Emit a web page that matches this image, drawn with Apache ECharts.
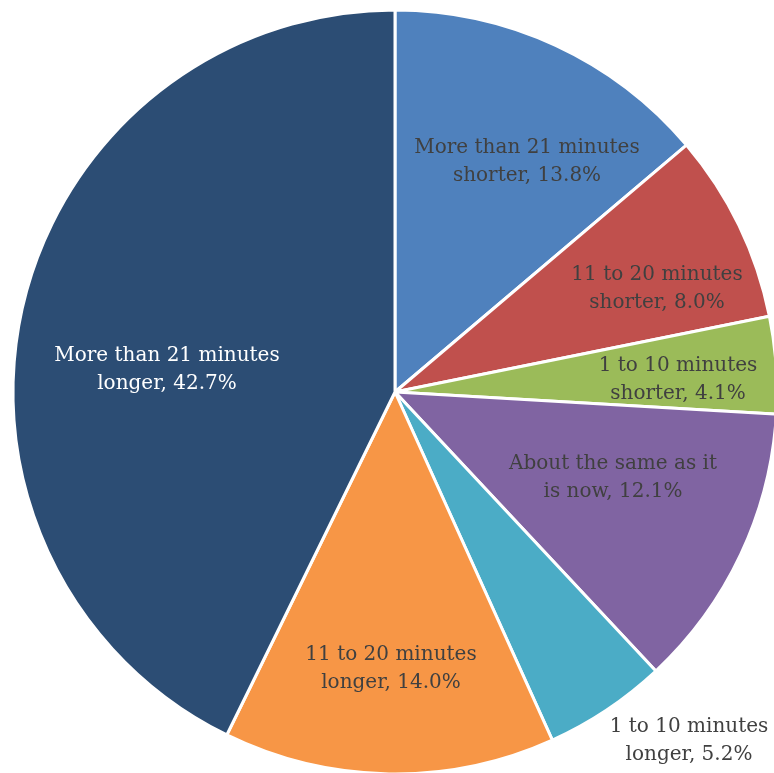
<!DOCTYPE html>
<html><head><meta charset="utf-8">
<script src="https://cdn.jsdelivr.net/npm/echarts@6/dist/echarts.min.js"></script>
<style>html,body{margin:0;padding:0;background:#fff}#c{width:774px;height:773px}</style>
</head><body><div id="c"></div>
<script>
const categories = [
  "More than 21 minutes\nshorter",
  "11 to 20 minutes\nshorter",
  "1 to 10 minutes\nshorter",
  "About the same as it\nis now",
  "1 to 10 minutes\nlonger",
  "11 to 20 minutes\nlonger",
  "More than 21 minutes\nlonger"
];
const values = [13.8, 8.0, 4.1, 12.1, 5.2, 14.0, 42.7];
const colors = ["#4F81BD", "#C0504D", "#9BBB59", "#8064A2", "#4BACC6", "#F79646", "#2C4D74"];
const labelColors = ["#404040", "#404040", "#404040", "#404040", "#404040", "#404040", "#ffffff"];
const labelPos = [[527,162],[657,289],[678,380],[613,478],[689,741],[391,669],[167,370]];

const chart = echarts.init(document.getElementById('c'));
chart.setOption({
  animation: false,
  series: [{
    type: 'pie',
    center: [395, 392],
    radius: 382,
    startAngle: 90,
    clockwise: true,
    data: categories.map((n, i) => ({
      name: n, value: values[i],
      itemStyle: { color: colors[i] },
      label: { color: labelColors[i] }
    })),
    itemStyle: { borderColor: '#fff', borderWidth: 3 },
    label: {
      show: true,
      position: 'inside',
      formatter: p => p.name + ', ' + p.value.toFixed(1) + '%',
      fontFamily: 'DejaVu Serif',
      fontSize: 20,
      lineHeight: 28,
      align: 'center'
    },
    labelLine: { show: false },
    labelLayout: p => ({ x: labelPos[p.dataIndex][0], y: labelPos[p.dataIndex][1], align: 'center', verticalAlign: 'middle' })
  }]
});
</script></body></html>
